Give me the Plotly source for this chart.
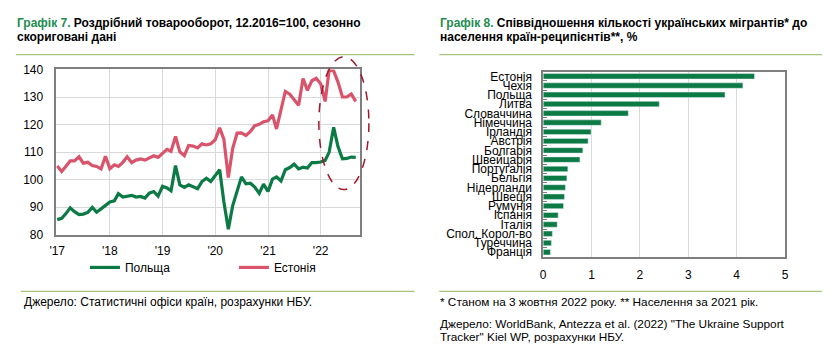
import plotly.graph_objects as go

# ---------------- data ----------------
months = [f"{y}-{m:02d}-01" for y in range(2017, 2023) for m in range(1, 13)][:69]

poland = [85.5, 86.0, 87.6, 89.8, 88.4, 87.3, 87.5, 88.1, 89.9, 88.2, 89.4, 90.5,
          91.9, 92.3, 94.9, 93.7, 94.0, 94.3, 93.7, 93.9, 93.3, 95.1, 95.7, 94.0,
          97.6, 97.0, 96.0, 105.1, 98.1, 97.2, 98.1, 97.5, 96.7, 99.3, 100.5, 99.3,
          101.6, 103.6, 92.0, 82.0, 90.5, 95.8, 101.0, 98.5, 98.7, 97.3, 95.0, 98.4,
          95.7, 100.2, 101.0, 99.5, 103.6, 104.4, 105.6, 103.9, 104.5, 104.2, 106.2, 106.2,
          106.4, 107.0, 110.0, 119.0, 112.0, 107.6, 107.7, 108.2, 108.1]

estonia = [105.0, 103.0, 104.8, 106.8, 106.8, 108.3, 106.0, 106.3, 105.1, 104.8, 103.9, 108.5,
           104.0, 105.4, 104.8, 106.3, 108.3, 106.2, 107.1, 107.5, 107.1, 108.0, 108.7, 108.1,
           109.7, 111.0, 110.3, 115.7, 110.1, 108.7, 112.4, 112.2, 111.5, 113.0, 112.6, 113.0,
           114.5, 118.8, 114.7, 100.8, 111.3, 116.9, 117.0, 116.0, 117.5, 119.6, 120.1, 121.0,
           121.4, 123.5, 118.4, 125.0, 132.0, 131.0, 129.2, 127.0, 136.7, 132.4, 135.9, 136.8,
           134.8, 128.4, 139.8, 139.5, 135.4, 130.0, 130.0, 131.1, 128.4]

year_ticks = ["2017-01-01", "2018-01-01", "2019-01-01", "2020-01-01", "2021-01-01", "2022-01-01"]
year_labels = ["'17", "'18", "'19", "'20", "'21", "'22"]

countries = ["Естонія", "Чехія", "Польща", "Литва", "Словаччина", "Німеччина", "Ірландія",
             "Австрія", "Болгарія", "Швейцарія", "Португалія", "Бельгія", "Нідерланди",
             "Швеція", "Румунія", "Іспанія", "Італія", "Спол. Корол-во", "Туреччина", "Франція"]
shares = [4.37, 4.13, 3.76, 2.40, 1.76, 1.20, 0.99, 0.93, 0.82, 0.76,
          0.51, 0.49, 0.46, 0.44, 0.42, 0.31, 0.29, 0.19, 0.17, 0.15]

# ---------------- style ----------------
W, H = 840, 359
GREEN = "#0b7a45"
PINK = "#d9536b"
TITLE_GREEN = "#1e8c50"
RULE = "#a6c27c"
GRID = "#d9d9d9"
FRAME = "#7f7f7f"
FONT = "Liberation Sans, Arial, sans-serif"


def px(x):
    return x / W


def py(y):
    return 1 - y / H


fig = go.Figure()
fig.add_trace(go.Scatter(x=months, y=poland, name="Польща", mode="lines",
                         line=dict(color=GREEN, width=3.2), xaxis="x", yaxis="y"))
fig.add_trace(go.Scatter(x=months, y=estonia, name="Естонія", mode="lines",
                         line=dict(color=PINK, width=3.2), xaxis="x", yaxis="y"))
fig.add_trace(go.Bar(x=shares, y=countries, orientation="h", marker_color=GREEN,
                     xaxis="x2", yaxis="y2", showlegend=False))

axis_common = dict(showline=True, linecolor=FRAME, linewidth=1.5, mirror=True,
                   gridcolor=GRID, gridwidth=1, zeroline=False,
                   tickfont=dict(family=FONT, size=12, color="#000"))

fig.update_layout(
    width=W, height=H,
    margin=dict(l=0, r=0, t=0, b=0),
    paper_bgcolor="white", plot_bgcolor="white",
    font=dict(family=FONT, size=12, color="#000"),
    bargap=0.41,
    xaxis=dict(domain=[px(50), px(357.3)], anchor="y", type="date",
               range=["2016-12-26", "2022-09-28"], tickvals=year_ticks, ticktext=year_labels,
               showgrid=True, ticks="", ticklabelstandoff=4, **axis_common),
    yaxis=dict(domain=[py(237), py(65)], anchor="x", range=[80, 140], dtick=10,
               showgrid=True, ticks="", ticklabelstandoff=9, **axis_common),
    xaxis2=dict(domain=[px(543.3), px(788.3)], anchor="y2", range=[0, 5], dtick=1,
                showgrid=True, ticks="", ticklabelstandoff=6, **axis_common),
    yaxis2=dict(domain=[py(260), py(67.3)], anchor="x2", type="category",
                autorange="reversed", showgrid=False, ticks="inside", ticklen=4,
                tickmode="array", tickvals=countries, ticktext=countries,
                tickcolor=FRAME, tickson="boundaries", ticklabelstandoff=7, **axis_common),
    legend=dict(orientation="h", x=px(79), y=py(271), xanchor="left", yanchor="middle",
                entrywidth=104, entrywidthmode="pixels", bgcolor="rgba(0,0,0,0)",
                font=dict(family=FONT, size=12), itemwidth=30),
)

shapes = [
    dict(type="circle", xref="paper", yref="paper", x0=px(316), x1=px(366.7),
         y0=py(190), y1=py(51.7), line=dict(color="#a0182b", width=1.5, dash="dash")),
    dict(type="line", xref="paper", yref="paper", x0=px(9), x1=px(413), y0=py(49.5), y1=py(49.5),
         line=dict(color=RULE, width=1.2)),
    dict(type="line", xref="paper", yref="paper", x0=px(438), x1=px(826), y0=py(49.5), y1=py(49.5),
         line=dict(color=RULE, width=1.2)),
    dict(type="line", xref="paper", yref="paper", x0=px(14), x1=px(413), y0=py(296), y1=py(296),
         line=dict(color=RULE, width=1.2)),
    dict(type="line", xref="paper", yref="paper", x0=px(438), x1=px(826), y0=py(296), y1=py(296),
         line=dict(color=RULE, width=1.2)),
]
fig.update_layout(shapes=shapes)


def note(x, y, text, size=12):
    fig.add_annotation(xref="paper", yref="paper", x=px(x), y=py(y), text=text,
                       showarrow=False, xanchor="left", yanchor="middle", align="left",
                       font=dict(family=FONT, size=size, color="#000"))


note(8, 17, f"<b><span style='color:{TITLE_GREEN}'>Графік 7.</span> Роздрібний товарооборот, 12.2016=100, сезонно</b>", 12)
note(8, 31.5, "<b>скориговані дані</b>", 12)
note(437, 17, f"<b><span style='color:{TITLE_GREEN}'>Графік 8.</span> Співвідношення кількості українських мігрантів* до</b>", 12)
note(437, 31.5, "<b>населення країн-реципієнтів**, %</b>", 12)

note(15, 306.7, "Джерело: Статистичні офіси країн, розрахунки НБУ.")
note(437, 306.7, "* Станом на 3 жовтня 2022 року. ** Населення за 2021 рік.", 11.8)
note(437, 330.2, "Джерело: WorldBank, Antezza et al. (2022) \"The Ukraine Support", 11.8)
note(437, 343.8, "Tracker\" Kiel WP, розрахунки НБУ.", 11.8)

fig.write_html("out.html", config={"displayModeBar": False},
               post_script="document.body.style.margin='0';document.body.style.padding='0';")
